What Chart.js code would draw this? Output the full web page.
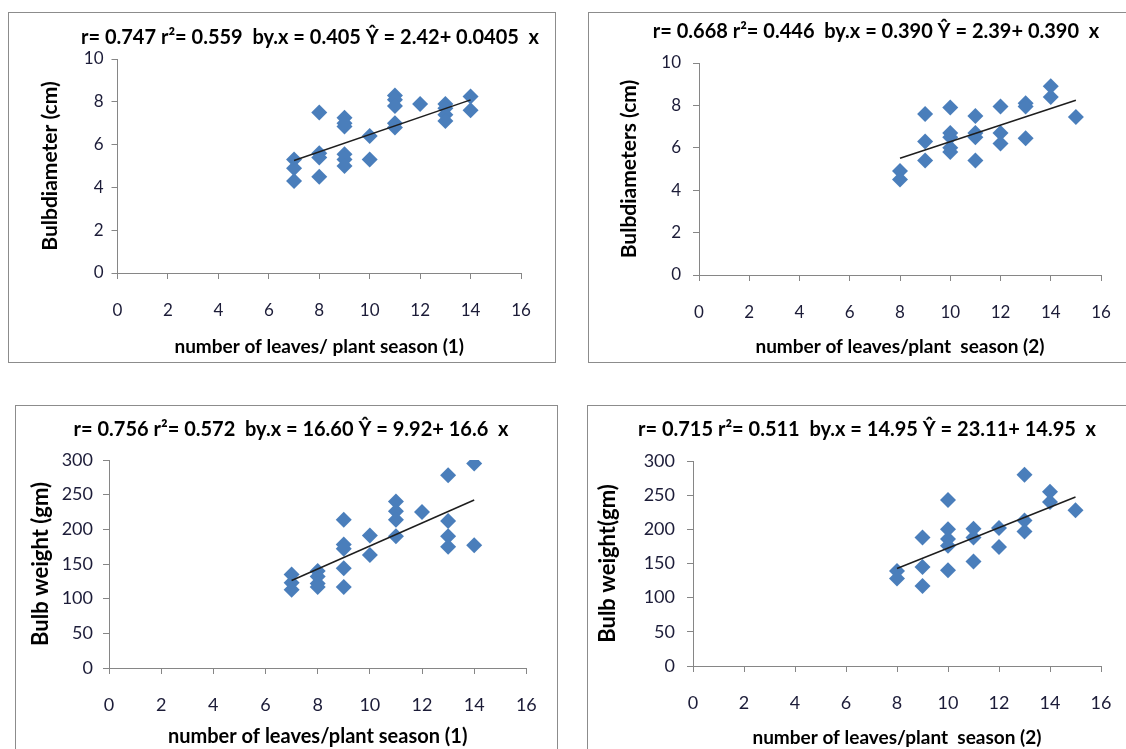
<!DOCTYPE html>
<html>
<head>
<meta charset="utf-8">
<title>Leaves per plant vs bulb size</title>
<script src="https://cdn.jsdelivr.net/npm/chart.js@4.4.0/dist/chart.umd.min.js"></script>
<style>
    body { margin: 0; width: 1126px; height: 749px; overflow: hidden; position: relative; background: #fff; }
    .panel { position: absolute; border: 1px solid #8c8c8c; background: #fff; }
    .panel canvas { display: block; }
</style>
</head>
<body>
<div class="panel" style="left:8px; top:12px;"><canvas id="diamChart1" width="546" height="349"></canvas></div>
<div class="panel" style="left:588px; top:12px;"><canvas id="diamChart2" width="545" height="349"></canvas></div>
<div class="panel" style="left:15px; top:405px;"><canvas id="weightChart1" width="541" height="350"></canvas></div>
<div class="panel" style="left:587px; top:405px;"><canvas id="weightChart2" width="545" height="350"></canvas></div>
<script>
// Tick labels
const leafTicks = [0, 2, 4, 6, 8, 10, 12, 14, 16];
const diamTicks = [0, 2, 4, 6, 8, 10];
const weightTicks = [0, 50, 100, 150, 200, 250, 300];

// Season 1 - bulb diameter (cm)
const leaves1Diam = [7, 7, 7, 8, 8, 8, 8, 9, 9, 9, 9, 9, 9, 10, 10, 11, 11, 11, 11, 11, 12, 13, 13, 13, 13, 14, 14];
const diam1 = [5.3, 4.9, 4.3, 7.5, 5.6, 5.4, 4.5, 7.25, 7.0, 6.85, 5.55, 5.3, 5.0, 6.4, 5.3, 8.3, 8.1, 7.8, 7.0, 6.8, 7.9, 7.9, 7.7, 7.4, 7.1, 8.25, 7.6];
const fitDiam1 = { a: 2.42, b: 0.405 };

// Season 2 - bulb diameter (cm)
const leaves2Diam = [8, 8, 9, 9, 9, 10, 10, 10, 10, 10, 11, 11, 11, 11, 12, 12, 12, 13, 13, 13, 14, 14, 15];
const diam2 = [4.9, 4.5, 7.6, 6.3, 5.4, 7.9, 6.7, 6.5, 6.0, 5.8, 7.5, 6.7, 6.5, 5.4, 7.95, 6.7, 6.2, 8.1, 7.95, 6.45, 8.9, 8.4, 7.45];
const fitDiam2 = { a: 2.39, b: 0.390 };

// Season 1 - bulb weight (gm)
const leaves1Weight = [7, 7, 7, 8, 8, 8, 8, 9, 9, 9, 9, 9, 10, 10, 11, 11, 11, 11, 12, 13, 13, 13, 13, 14, 14];
const weight1 = [135, 123, 113, 140, 132, 122, 117, 214, 178, 172, 144, 117, 191, 163, 240, 226, 214, 190, 225, 278, 212, 190, 175, 295, 177];
const fitWeight1 = { a: 9.92, b: 16.6 };

// Season 2 - bulb weight (gm)
const leaves2Weight = [8, 8, 9, 9, 9, 10, 10, 10, 10, 10, 11, 11, 11, 12, 12, 13, 13, 13, 14, 14, 15];
const weight2 = [139, 128, 188, 145, 117, 243, 200, 186, 176, 140, 201, 188, 153, 202, 174, 280, 213, 197, 255, 240, 228];
const fitWeight2 = { a: 23.11, b: 14.95 };

function toPoints(xs, ys) {
    return xs.map((x, i) => ({ x: x, y: ys[i] }));
}

// fitted line from the smallest to the largest leaf count
function trendPoints(xs, fit) {
    const lo = Math.min(...xs);
    const hi = Math.max(...xs);
    return [{ x: lo, y: fit.a + fit.b * lo }, { x: hi, y: fit.a + fit.b * hi }];
}

// Equation line drawn above each plot
const equationTitle = {
    id: 'equationTitle',
    afterDraw(chart, args, opts) {
        const ctx = chart.ctx;
        ctx.save();
        ctx.font = 'bold ' + opts.size + 'px Lato, sans-serif';
        ctx.fillStyle = '#000';
        ctx.textAlign = 'center';
        ctx.textBaseline = 'middle';
        ctx.fillText(opts.text, opts.x, opts.y);
        ctx.restore();
    }
};

function buildPanel(id, g, xs, ys, fit, yTicks, yMax, yLabel, xLabel, equation) {
    const canvas = document.getElementById(id);
    const W = canvas.width, H = canvas.height;
    const tickLen = 6;
    const axisColor = '#868686';
    const textColor = '#1c1c38';
    return new Chart(canvas.getContext('2d'), {
        type: 'scatter',
        data: {
            datasets: [{
                label: 'fit',
                data: trendPoints(xs, fit),
                showLine: true,
                borderColor: '#1e1e1e',
                borderWidth: 1.5,
                pointRadius: 0,
                order: 0
            }, {
                label: 'observed',
                data: toPoints(xs, ys),
                pointStyle: 'rectRot',
                pointRadius: 8,
                backgroundColor: '#4a7ebb',
                borderColor: '#4a7ebb',
                borderWidth: 0,
                order: 1
            }]
        },
        options: {
            responsive: false,
            animation: false,
            events: [],
            layout: { padding: { left: 0, top: g.top, right: W - g.right, bottom: 0 } },
            plugins: {
                legend: { display: false },
                tooltip: { enabled: false },
                equationTitle: { text: equation, x: g.titleX, y: g.titleY, size: g.titleSize }
            },
            scales: {
                x: {
                    type: 'linear',
                    min: 0,
                    max: 16,
                    afterBuildTicks: function(scale) { scale.ticks = leafTicks.map(v => ({ value: v })); },
                    afterFit: function(scale) { scale.height = H - g.bottom; },
                    grid: { drawOnChartArea: false, drawTicks: true, tickLength: tickLen, color: axisColor },
                    border: { display: true, color: axisColor, width: 1 },
                    ticks: {
                        padding: g.xTickOffset - tickLen - g.tickSize * 0.6,
                        color: textColor,
                        font: { family: 'Lato', size: g.tickSize }
                    },
                    title: {
                        display: true,
                        text: xLabel,
                        color: '#000',
                        font: { family: 'Lato', size: g.xTitleSize, weight: 'bold' },
                        padding: { top: 0, bottom: H - g.xTitleY - g.xTitleSize * 0.6 }
                    }
                },
                y: {
                    type: 'linear',
                    min: 0,
                    max: yMax,
                    afterBuildTicks: function(scale) { scale.ticks = yTicks.map(v => ({ value: v })); },
                    afterFit: function(scale) { scale.width = g.left; },
                    grid: { drawOnChartArea: false, drawTicks: true, tickLength: tickLen, color: axisColor },
                    border: { display: true, color: axisColor, width: 1 },
                    ticks: {
                        padding: g.yTickGap - tickLen,
                        color: textColor,
                        font: { family: 'Lato', size: g.tickSize }
                    },
                    title: {
                        display: true,
                        text: yLabel,
                        color: '#000',
                        font: { family: 'Lato', size: g.yTitleSize, weight: 'bold' },
                        padding: { top: g.yTitleX - g.yTitleSize * 0.6, bottom: 0 }
                    }
                }
            }
        },
        plugins: [equationTitle]
    });
}

document.addEventListener('DOMContentLoaded', function() {
    buildPanel('diamChart1',
        { left: 108.5, right: 512, top: 46, bottom: 260, titleX: 301, titleY: 25, titleSize: 20,
          yTitleX: 41, yTitleSize: 21, xTitleY: 334, xTitleSize: 19, xTickOffset: 38, yTickGap: 14, tickSize: 17 },
        leaves1Diam, diam1, fitDiam1, diamTicks, 10,
        'Bulbdiameter (cm)', 'number of leaves/ plant season (1)',
        'r= 0.747 r\u00b2= 0.559  by.x = 0.405 \u0176 = 2.42+ 0.0405  x');

    buildPanel('diamChart2',
        { left: 110, right: 512, top: 50, bottom: 262, titleX: 287, titleY: 19, titleSize: 20,
          yTitleX: 40, yTitleSize: 21, xTitleY: 334, xTitleSize: 19, xTickOffset: 38, yTickGap: 18, tickSize: 17 },
        leaves2Diam, diam2, fitDiam2, diamTicks, 10,
        'Bulbdiameters (cm)', 'number of leaves/plant  season (2)',
        'r= 0.668 r\u00b2= 0.446  by.x = 0.390 \u0176 = 2.39+ 0.390  x');

    buildPanel('weightChart1',
        { left: 93, right: 514, top: 54, bottom: 262, titleX: 275, titleY: 24, titleSize: 20,
          yTitleX: 25, yTitleSize: 22, xTitleY: 331, xTitleSize: 20, xTickOffset: 37, yTickGap: 16, tickSize: 18 },
        leaves1Weight, weight1, fitWeight1, weightTicks, 300,
        'Bulb weight (gm)', 'number of leaves/plant season (1)',
        'r= 0.756 r\u00b2= 0.572  by.x = 16.60 \u0176 = 9.92+ 16.6  x');

    buildPanel('weightChart2',
        { left: 105, right: 513, top: 55, bottom: 260, titleX: 279, titleY: 24, titleSize: 20,
          yTitleX: 20, yTitleSize: 22, xTitleY: 332, xTitleSize: 19, xTickOffset: 37, yTickGap: 18, tickSize: 18 },
        leaves2Weight, weight2, fitWeight2, weightTicks, 300,
        'Bulb weight(gm)', 'number of leaves/plant  season (2)',
        'r= 0.715 r\u00b2= 0.511  by.x = 14.95 \u0176 = 23.11+ 14.95  x');
});
</script>
</body>
</html>
